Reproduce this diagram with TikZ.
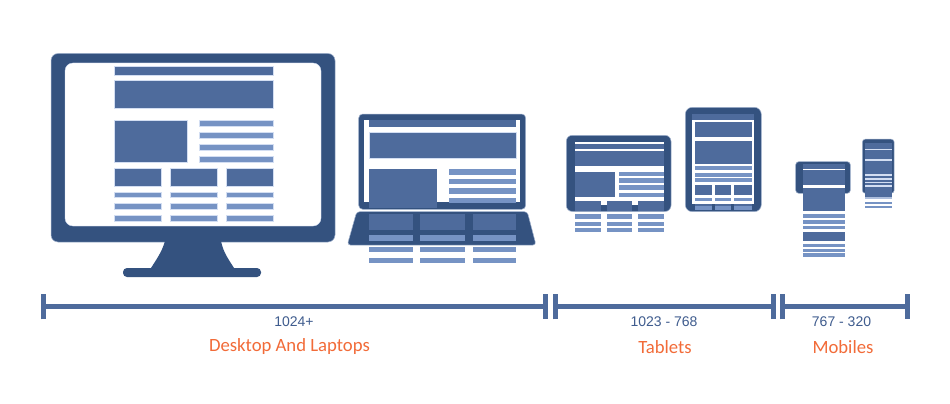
\documentclass[tikz,border=0pt]{standalone}
\usepackage{fontspec}
\usetikzlibrary{arrows.meta}
\setmainfont{Liberation Sans}
\newfontfamily\capfont{Carlito}
\definecolor{dk}{HTML}{34527F}
\definecolor{md}{HTML}{4E6B9C}
\definecolor{lg}{HTML}{7693C4}
\definecolor{rim}{HTML}{D3DEF2}
\definecolor{rng}{HTML}{3F5C8E}
\definecolor{org}{HTML}{F26B38}
\tikzset{
  shell/.style={fill=dk,draw=rim!70!dk,line width=0.5pt},
  blk/.style={fill=md,draw=rim,line width=0.4pt},
  lin/.style={fill=lg,draw=rim,line width=0.4pt},
  axisbar/.style={{Bar[width=25pt,line width=5pt,sep=0pt]}-{Bar[width=25pt,line width=5pt,sep=0pt]},line width=5pt,draw=md},
  rnglbl/.style={text=rng,font=\fontsize{14}{16}\selectfont},
  caplbl/.style={text=org,font=\capfont\fontsize{18.7}{22}\selectfont},
}
\begin{document}
\begin{tikzpicture}[x=1pt,y=-1pt]
  \useasboundingbox[fill=white] (0,0) rectangle (950,404);
  % desktop
  \draw[shell,rounded corners=7pt] (51,53.5) rectangle (335,242);
  \fill[dk] (165,241) .. controls (162,252) and (156,260) .. (151,268) -- (234,268) .. controls (229,260) and (223,252) .. (221,241) -- cycle;
  \fill[dk,rounded corners=4pt] (123,268) rectangle (261,277);
  \draw[fill=white,draw=rim,rounded corners=8pt] (65,63) rectangle (321,226);
  \draw[blk] (114,66.7) rectangle (273,75);
  \draw[blk] (114,80) rectangle (273,108);
  \draw[blk] (114,120) rectangle (187.3,161.7);
  \foreach \y in {120,132,144,156}
    \draw[lin] (199.3,\y) rectangle (273,\y+6);
  \foreach \xa/\xb in {114/161.3,169.7/217.3,225.7/273} {
    \draw[blk] (\xa,167.7) rectangle (\xb,186.3);
    \foreach \y in {191.7,203.3,215}
      \draw[lin] (\xa,\y) rectangle (\xb,\y+5.8);
  }
  % laptop
  \draw[shell,rounded corners=4pt] (358.7,114) rectangle (525.7,209.3);
  \fill[white] (364.3,120) rectangle (520.3,202);
  \draw[shell,rounded corners=3pt] (356.7,211.7) -- (527.3,211.7) -- (536,245) -- (347.3,245) -- cycle;
  \fill[md] (369.3,120) rectangle (516.3,127);
  \draw[blk] (369.3,132.3) rectangle (516.3,158);
  \fill[md] (369.3,169) rectangle (437,208);
  \foreach \y in {169,178.7,188,197.7}
    \fill[lg] (449,\y) rectangle (516.3,\y+5.6);
  \foreach \xa/\xb in {369.3/413,420.3/465.3,472.7/516.3} {
    \fill[md] (\xa,214) rectangle (\xb,230.3);
    \fill[lg] (\xa,235.3) rectangle (\xb,241.3);
    \fill[lg] (\xa,247.3) rectangle (\xb,252);
    \fill[lg] (\xa,258) rectangle (\xb,262.7);
  }
  % landscape tablet
  \draw[shell,rounded corners=6pt] (566.3,135.3) rectangle (671,211.5);
  \fill[white] (574.7,142.3) rectangle (664,204.7);
  \fill[md] (574.7,143.7) rectangle (664,148.7);
  \fill[md] (574.7,151) rectangle (664,166);
  \fill[md] (574.7,171.7) rectangle (615,197.3);
  \foreach \y in {171.7,178.3,185.3,192.7}
    \fill[lg] (618.7,\y) rectangle (664,\y+4.5);
  \foreach \xa/\xb in {574.7/600.7,606.7/631.7,637.7/664} {
    \fill[md] (\xa,201) rectangle (\xb,211);
    \fill[lg] (\xa,214) rectangle (\xb,218.7);
    \fill[lg] (\xa,222) rectangle (\xb,226);
    \fill[lg] (\xa,228.3) rectangle (\xb,231.7);
  }
  \fill[dk] (600.7,204.7) rectangle (606.7,211);
  \fill[dk] (631.7,204.7) rectangle (637.7,211);
  % portrait tablet
  \draw[shell,rounded corners=7pt] (685.3,107.3) rectangle (761.3,211.7);
  \fill[md] (692.3,114.3) rectangle (753.7,120);
  \fill[white] (692.3,120) rectangle (753.7,203.7);
  \fill[md] (694.7,122.3) rectangle (751.7,136.7);
  \fill[md] (694.7,141) rectangle (751.7,163.7);
  \foreach \y in {166.3,172.7,178.3}
    \fill[lg] (694.7,\y) rectangle (751.7,\y+4);
  \foreach \xa/\xb in {694.7/712.3,715/731.3,733.7/751.7} {
    \fill[md] (\xa,185.3) rectangle (\xb,195);
    \fill[lg] (\xa,197.7) rectangle (\xb,201.3);
    \fill[md] (\xa,203.7) rectangle (\xb,206);
    \fill[lg] (\xa,206) rectangle (\xb,210.3);
  }
  % large mobile
  \draw[shell,rounded corners=3pt] (795.7,161.7) rectangle (850.3,193.3);
  \fill[md] (802.7,164) rectangle (845.3,211.3);
  \fill[white] (802.7,168.7) rectangle (845.3,170.3);
  \fill[white] (802.7,185.3) rectangle (845.3,188.3);
  \foreach \y in {214,220,225.7,243.7,248.7,253.3}
    \fill[lg] (802.7,\y) rectangle (845.3,\y+3.5);
  \fill[md] (802.7,231.7) rectangle (845.3,241);
  % small mobile
  \draw[shell,rounded corners=3pt] (862.3,139.2) rectangle (894.2,193.3);
  \fill[md] (864.7,143.3) rectangle (891.7,193.3);
  \fill[md] (864.7,193.3) rectangle (891.7,196.7);
  \fill[rim] (864.7,148.7) rectangle (891.7,150);
  \fill[rim] (864.7,159) rectangle (891.7,161);
  \foreach \y in {174.3,178.3,181.7,185.3}
    \fill[rim] (864.7,\y) rectangle (891.7,\y+1.5);
  \fill[lg!60!white] (864.7,197.3) rectangle (891.7,199.3);
  \foreach \y in {201.7,206}
    \fill[lg] (864.7,\y) rectangle (891.7,\y+2);
  % ranges
  \coordinate (a1) at (41.3,306.8);
  \coordinate (a2) at (548.3,306.8);
  \coordinate (b1) at (553.3,306.8);
  \coordinate (b2) at (775.7,306.8);
  \coordinate (c1) at (780.3,306.8);
  \coordinate (c2) at (910,306.8);
  \draw[axisbar] (a1) -- (a2);
  \draw[axisbar] (b1) -- (b2);
  \draw[axisbar] (c1) -- (c2);
  \node[rnglbl] (r1) at (294,321.7) {1024+};
  \node[rnglbl] (r2) at (664,321.7) {1023 - 768};
  \node[rnglbl] (r3) at (841.5,321.7) {767 - 320};
  \node[caplbl] (t1) at (289.5,347) {Desktop And Laptops};
  \node[caplbl] (t2) at (665,347) {Tablets};
  \node[caplbl] (t3) at (843,347) {Mobiles};
\end{tikzpicture}
\end{document}
